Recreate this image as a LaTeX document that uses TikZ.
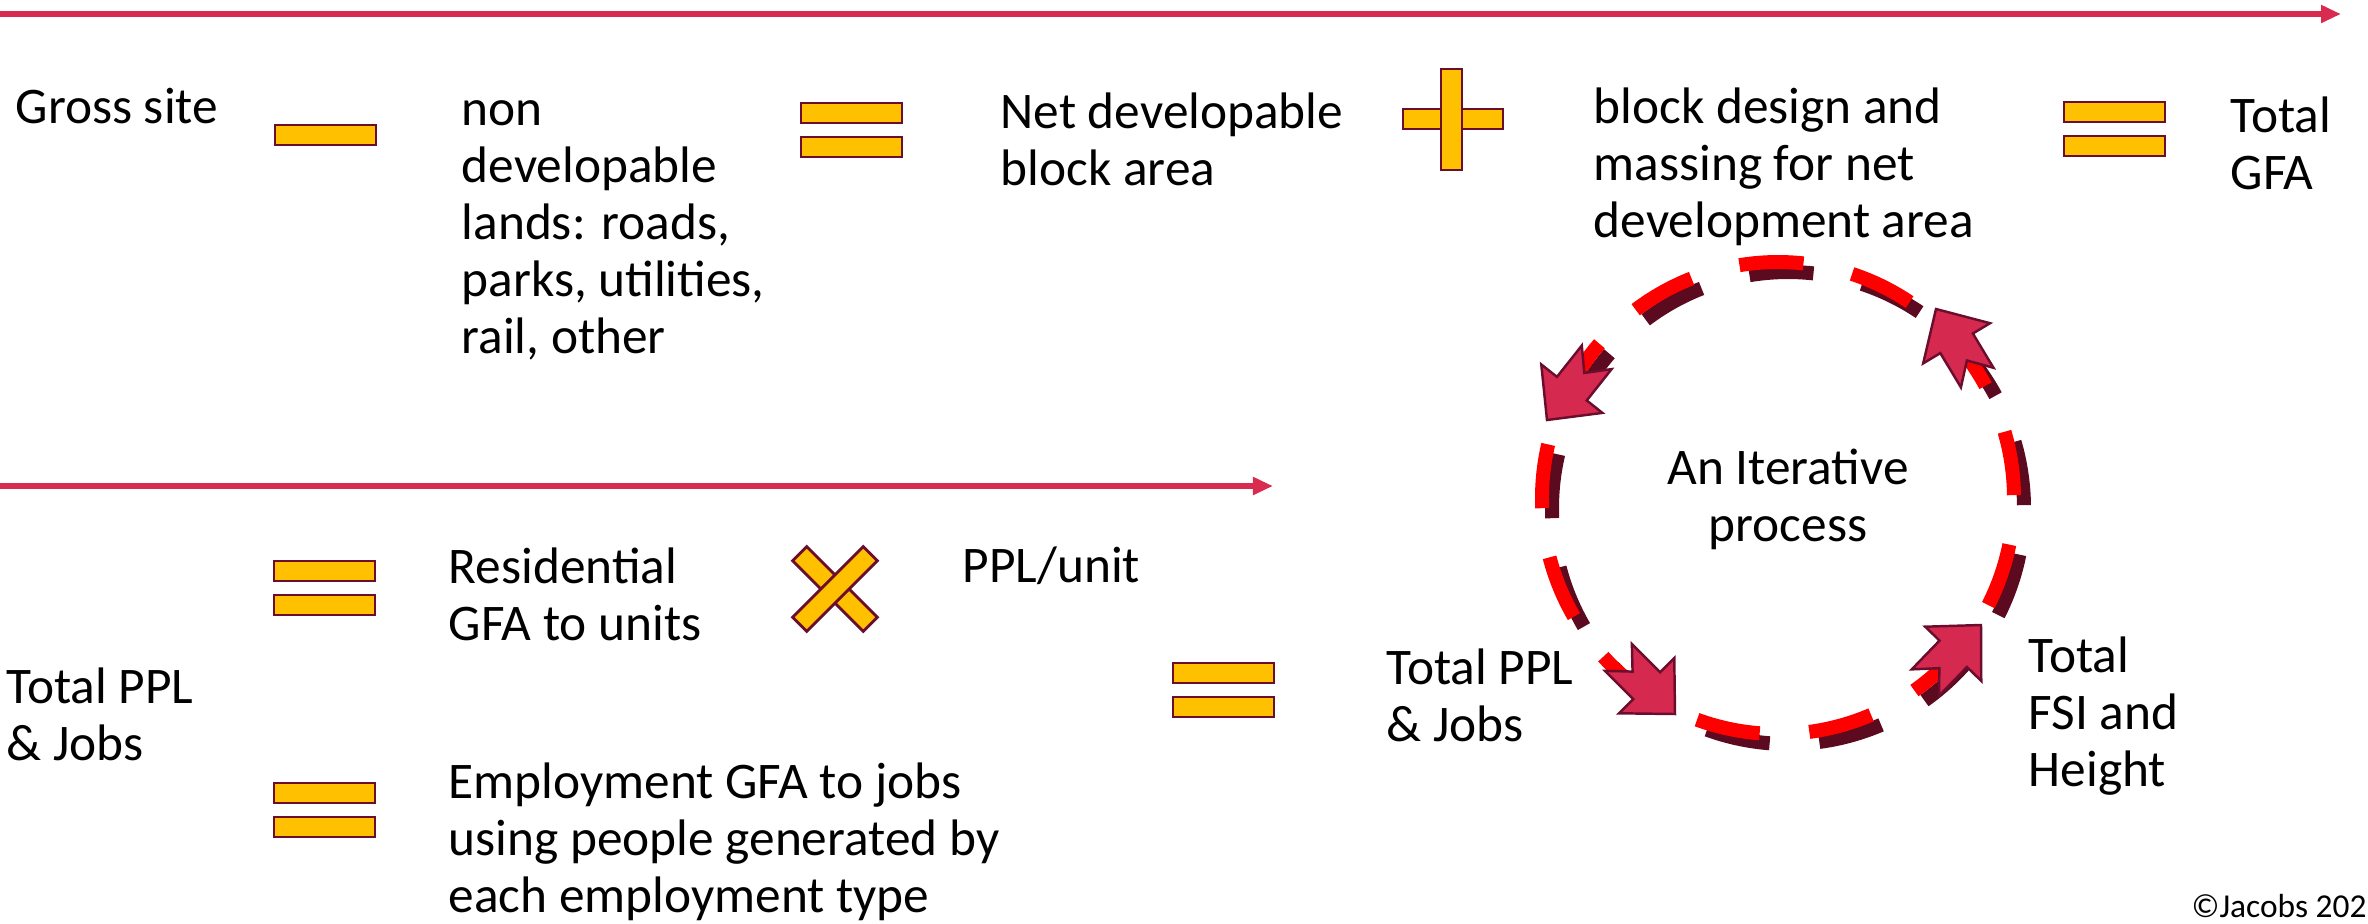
\documentclass[tikz,border=0pt]{standalone}
\usepackage{fontspec}
\setmainfont{Carlito}
\usetikzlibrary{arrows.meta}
\usetikzlibrary{calc}
\definecolor{flowred}{HTML}{D92B50}
\definecolor{opfill}{HTML}{FFC000}
\definecolor{opedge}{HTML}{6B0E2E}
\definecolor{ringred}{HTML}{FF0000}
\definecolor{ringshadow}{HTML}{5C0A20}
\definecolor{cyclefill}{HTML}{D6294F}
\newcommand\bodyfont{\fontsize{14.6}{16.2}\selectfont}

\begin{document}
\begin{tikzpicture}[x=0.01cm, y=0.01cm,
    lbl/.style={anchor=north west, inner sep=0pt, align=left, font=\bodyfont},
    flow/.style={draw=flowred, line width=0.06cm, -{Triangle[length=0.2cm, width=0.17cm]}},
    opbar/.style={draw=opedge, fill=opfill, line width=0.8pt},
    ring/.style={line width=0.14cm},
    cyclearrow/.style={draw=opedge, fill=cyclefill, line width=0.7pt, line join=miter}]
    \useasboundingbox (0,0) rectangle (2368,-923);

    % Flow arrows
    \coordinate (topstart) at (0,-14);
    \coordinate (topend) at (2341,-14);
    \draw[flow] (topstart) -- (topend);
    \coordinate (midstart) at (0,-486);
    \coordinate (midend) at (1273,-486);
    \draw[flow] (midstart) -- (midend);

    % Top row
    \node[lbl] (gross) at (15,-83) {\strut Gross site};
    \draw[opbar] (275,-125) rectangle (376,-145);
    \node[lbl] (nondev) at (461,-85) {\strut non\\developable\\lands: roads,\\parks, utilities,\\rail, other};
    \node[lbl] (netdev) at (1000,-88) {\strut Net developable\\block area};
    \draw[opbar] (1403,-109) rectangle (1503,-129);
    \draw[opbar] (1441,-69) rectangle (1462,-170);
    \node[lbl] (blockdes) at (1593,-83) {\strut block design and\\massing for net\\development area};
    \node[lbl] (totalgfa) at (2230,-92) {\strut Total\\GFA};

    % Equals signs
    \foreach \x/\y in {801/103, 2064/102, 274/561, 274/783, 1173/663} {
        \draw[opbar] (\x,-\y) rectangle ++(101,-20);
        \draw[opbar] (\x,-\y-34) rectangle ++(101,-20);
    }

    % Bottom rows
    \node[lbl] (resid) at (448,-543) {\strut Residential\\GFA to units};
    \begin{scope}[shift={(835,-589)}]
        \draw[opbar, rotate=-45] (-50,-10) rectangle (50,10);
        \draw[opbar, rotate=45] (-50,-10) rectangle (50,10);
    \end{scope}
    \node[lbl] (pplunit) at (962,-542) {\strut PPL/unit};
    \node[lbl] (totalppl) at (6,-663) {\strut Total PPL\\\& Jobs};
    \node[lbl] (employ) at (448,-758) {\strut Employment GFA to jobs\\using people generated by\\each employment type};
    \node[lbl] (totalpplb) at (1386,-644) {\strut Total PPL\\\& Jobs};
    \node[lbl] (totalfsi) at (2028,-632) {\strut Total\\FSI and\\Height};

    % Iterative ring
    \coordinate (ringc) at (1778,-498);
    \foreach \i in {0,...,12} {
        \pgfmathsetmacro\m{8.5-27.69*\i}
        \draw[ring, draw=ringshadow] ($(ringc)+(10,-10)+(\m+7.8:236)$)
            arc[start angle=\m+7.8, end angle=\m-7.8, radius=236];
    }
    \foreach \i in {0,...,12} {
        \pgfmathsetmacro\m{8.5-27.69*\i}
        \draw[ring, draw=ringred] ($(ringc)+(\m+7.8:236)$)
            arc[start angle=\m+7.8, end angle=\m-7.8, radius=236];
    }
    \foreach \tx/\ty/\ang in {1675/-714/-45, 1936/-309/121, 1547/-420/231.6, 1981/-625/46}
        \draw[cyclearrow, shift={(\tx,\ty)}, rotate=\ang] (0,0) -- (-40,39) -- (-40,19)
            -- (-80,19) -- (-60,0) -- (-80,-19) -- (-40,-19) -- (-40,-39) -- cycle;
    \node[anchor=north, inner sep=0pt, align=center, font=\bodyfont] (iter) at (1788,-444)
        {\strut An Iterative\\process};

    \node[anchor=base west, inner sep=0pt, font=\fontsize{9.5}{11}\selectfont] (copy) at (2191,-917) {©Jacobs 2021};
\end{tikzpicture}
\end{document}
